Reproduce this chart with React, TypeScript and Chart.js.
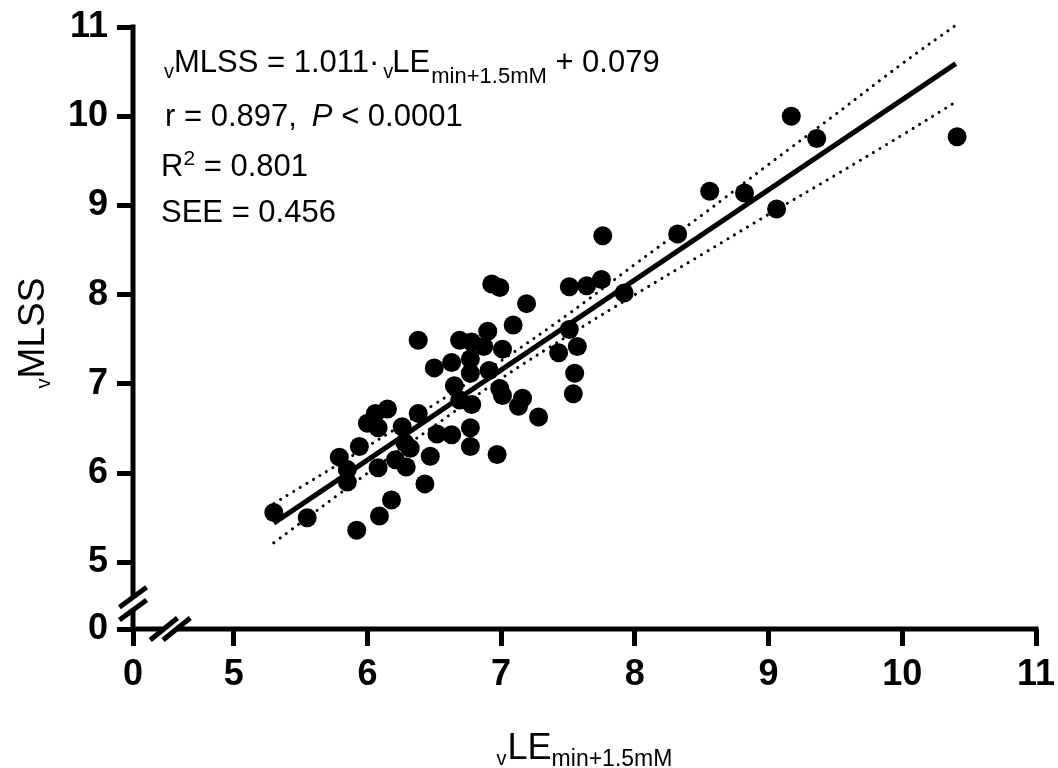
import React, { useEffect, useRef } from 'react';
import { Chart, registerables } from 'chart.js';

Chart.register(...registerables);

const FONT = "'Liberation Sans', Arial, Helvetica, sans-serif";

// Individual subjects: √LE(min+1.5mM) (x) vs √MLSS (y)
const xData = [
  5.30, 5.55, 5.92, 6.09, 6.18, 6.43, 5.79, 5.85, 5.85, 5.94,
  6.00, 6.06, 6.15, 6.08, 6.08, 6.26, 6.28, 6.21, 6.29, 6.38,
  6.47, 6.52, 6.32,
  6.38, 6.69, 6.78, 6.87, 7.01, 6.90, 7.09, 7.19, 6.93, 6.99,
  6.50, 6.63, 6.77, 6.77, 6.91, 6.65, 6.69, 6.78, 6.99, 7.01,
  7.16, 7.13, 7.28, 6.63, 6.77, 6.77, 6.97,
  7.43, 7.51, 7.57, 7.55, 7.54, 7.51, 7.64, 7.75, 7.92, 7.76,
  8.32, 8.56, 8.82, 9.06, 9.17, 9.36, 10.41,
];
const yData = [
  5.56, 5.50, 5.36, 5.52, 5.70, 5.88, 6.18, 6.04, 5.90, 6.30,
  6.56, 6.67, 6.72, 6.51, 6.06, 6.52, 6.34, 6.15, 6.07, 6.67,
  6.19, 6.44, 6.28,
  7.49, 7.49, 7.47, 7.42, 7.39, 7.59, 7.66, 7.90, 8.12, 8.08,
  7.18, 7.24, 7.28, 7.12, 7.15, 6.98, 6.82, 6.77, 6.95, 6.87,
  6.84, 6.75, 6.63, 6.43, 6.51, 6.30, 6.21,
  7.35, 7.61, 7.42, 7.12, 6.89, 8.09, 8.10, 8.17, 8.02, 8.66,
  8.68, 9.16, 9.14, 8.96, 10.00, 9.75, 9.77,
];

// Regression line end points and 95% confidence band
const fitX = [5.3, 10.4];
const fitY = [5.44, 10.59];
const bandX = [5.3, 6.0, 6.5, 7.0, 7.5, 8.0, 8.5, 9.0, 9.5, 10.0, 10.4];
const bandUpper = [5.66, 6.30, 6.77, 7.26, 7.78, 8.34, 8.89, 9.46, 10.02, 10.59, 11.02];
const bandLower = [5.22, 6.00, 6.53, 7.06, 7.54, 8.00, 8.45, 8.90, 9.34, 9.79, 10.16];

// Axis ticks (axes are broken between 0 and 5)
const xTickValues = [5, 6, 7, 8, 9, 10, 11];
const yTickValues = [5, 6, 7, 8, 9, 10, 11];
const zeroTickLabel = '0';
const X_ZERO_AT = 4.247; // position on the broken x axis where "0" is shown
const Y_ZERO_AT = 4.254; // position on the broken y axis where "0" is shown

type Part = { t: string; f: string; dx?: number; dy?: number };

const main = `31px ${FONT}`;
const mainItalic = `italic 31px ${FONT}`;
const tiny = `20px ${FONT}`;
const sub = `22px ${FONT}`;
const sup = `21px ${FONT}`;

const annotationLines: { x: number; y: number; parts: Part[] }[] = [
  {
    x: 164, y: 44.7,
    parts: [
      { t: 'v', f: tiny, dy: 6.3 },
      { t: 'MLSS = 1.011·', f: main },
      { t: 'v', f: tiny, dy: 6.3, dx: 4 },
      { t: 'LE', f: main, dx: -1 },
      { t: 'min+1.5mM', f: sub, dy: 11, dx: 1 },
      { t: ' + 0.079', f: main },
    ],
  },
  {
    x: 165, y: 98.7,
    parts: [
      { t: 'r = 0.897,', f: main },
      { t: 'P', f: mainItalic, dx: 15 },
      { t: ' < 0.0001', f: main },
    ],
  },
  {
    x: 161, y: 148.7,
    parts: [
      { t: 'R', f: main },
      { t: '2', f: sup, dy: -10.7 },
      { t: ' = 0.801', f: main },
    ],
  },
  {
    x: 161, y: 195.3,
    parts: [{ t: 'SEE = 0.456', f: main }],
  },
];

const xTitle: Part[] = [
  { t: 'v', f: `20px ${FONT}`, dy: 6 },
  { t: 'LE', f: `36px ${FONT}`, dx: 1 },
  { t: 'min+1.5mM', f: `23px ${FONT}`, dy: 7 },
];
const yTitle: Part[] = [
  { t: 'v', f: `20px ${FONT}`, dy: 6 },
  { t: 'MLSS', f: `37px ${FONT}` },
];

function runWidth(ctx: CanvasRenderingContext2D, parts: Part[]) {
  let w = 0;
  for (const p of parts) {
    ctx.font = p.f;
    w += (p.dx || 0) + ctx.measureText(p.t).width;
  }
  return w;
}

function drawRun(ctx: CanvasRenderingContext2D, parts: Part[], x: number, y: number) {
  let cx = x;
  for (const p of parts) {
    ctx.font = p.f;
    cx += p.dx || 0;
    ctx.fillText(p.t, cx, y + (p.dy || 0));
    cx += ctx.measureText(p.t).width;
  }
}

const decorPlugin = {
  id: 'decor',
  afterDraw(chart: any) {
    const ctx: CanvasRenderingContext2D = chart.ctx;
    const xs = chart.scales.x;
    const ys = chart.scales.y;
    const ca = chart.chartArea;
    const left = xs.getPixelForValue(X_ZERO_AT);
    const bottom = ys.getPixelForValue(Y_ZERO_AT);
    const x5 = xs.getPixelForValue(5);
    const x11 = xs.getPixelForValue(11);
    const y5 = ys.getPixelForValue(5);
    const y11 = ys.getPixelForValue(11);

    ctx.save();
    ctx.strokeStyle = '#000';
    ctx.fillStyle = '#000';
    ctx.lineWidth = 5;
    ctx.lineCap = 'butt';
    const seg = (a: number, b: number, c: number, d: number) => {
      ctx.beginPath();
      ctx.moveTo(a, b);
      ctx.lineTo(c, d);
      ctx.stroke();
    };
    const yb = bottom - 0.38 * (bottom - y5);
    const xb = left + 0.37 * (x5 - left);
    const g = 6.4;
    // axis lines with breaks
    seg(left, y11 - 2.5, left, yb - g);
    seg(left, yb + g, left, bottom + 2.5);
    seg(left - 2.5, bottom, xb - g, bottom);
    seg(xb + g, bottom, x11 + 2.5, bottom);
    // break marks
    for (const s of [-g, g]) {
      seg(left - 13.6, yb + s + 10, left + 13.6, yb + s - 10);
      seg(xb + s - 13.6, bottom + 11, xb + s + 13.6, bottom - 11);
    }

    // annotation
    ctx.textBaseline = 'alphabetic';
    ctx.textAlign = 'left';
    for (const line of annotationLines) {
      drawRun(ctx, line.parts, line.x, ca.top + line.y);
    }

    // x title
    const cxMid = (ca.left + ca.right) / 2;
    const wx = runWidth(ctx, xTitle);
    drawRun(ctx, xTitle, cxMid - wx / 2, 759);

    // y title (rotated)
    const cyMid = (ca.top + ca.bottom) / 2 + 5;
    const wy = runWidth(ctx, yTitle);
    ctx.translate(44, cyMid + wy / 2);
    ctx.rotate(-Math.PI / 2);
    drawRun(ctx, yTitle, 0, 0);
    ctx.restore();
  },
};

const tickFont = { family: FONT, size: 36, weight: 'bold' as const };

export default function App() {
  const ref = useRef<HTMLCanvasElement>(null);

  useEffect(() => {
    if (!ref.current) return;
    const points = xData.map((x, i) => ({ x, y: yData[i] }));
    const fit = fitX.map((x, i) => ({ x, y: fitY[i] }));
    const upper = bandX.map((x, i) => ({ x, y: bandUpper[i] }));
    const lower = bandX.map((x, i) => ({ x, y: bandLower[i] }));

    const chart = new Chart(ref.current, {
      type: 'scatter',
      data: {
        datasets: [
          {
            data: upper,
            showLine: true,
            borderColor: '#000',
            borderWidth: 3,
            borderDash: [0.1, 7.6],
            borderCapStyle: 'round',
            pointRadius: 0,
            tension: 0.4,
            clip: false as any,
          },
          {
            data: lower,
            showLine: true,
            borderColor: '#000',
            borderWidth: 3,
            borderDash: [0.1, 7.6],
            borderCapStyle: 'round',
            pointRadius: 0,
            tension: 0.4,
            clip: false as any,
          },
          {
            data: fit,
            showLine: true,
            borderColor: '#000',
            borderWidth: 5,
            pointRadius: 0,
          },
          {
            data: points,
            backgroundColor: '#000',
            borderColor: '#000',
            borderWidth: 0,
            pointRadius: 9.5,
            pointHoverRadius: 9.5,
          },
        ] as any,
      },
      options: {
        responsive: false,
        animation: false,
        devicePixelRatio: 1,
        layout: { padding: { top: 27, right: 22, bottom: 0, left: 0 } },
        plugins: {
          legend: { display: false },
          tooltip: { enabled: false },
          title: { display: false },
        },
        scales: {
          x: {
            type: 'linear',
            bounds: 'data',
            min: X_ZERO_AT,
            max: 11,
            afterBuildTicks: (s: any) => {
              s.ticks = [X_ZERO_AT, ...xTickValues].map((v) => ({ value: v }));
            },
            afterFit: (s: any) => {
              s.height = 139;
              s.paddingLeft = 0;
              s.paddingRight = 0;
            },
            grid: {
              display: true,
              drawOnChartArea: false,
              drawTicks: true,
              tickLength: 17,
              tickWidth: 5,
              tickColor: '#000',
            },
            border: { display: false },
            ticks: {
              font: tickFont,
              color: '#000',
              padding: 7,
              maxRotation: 0,
              autoSkip: false,
              callback: (v: any) => (v === X_ZERO_AT ? zeroTickLabel : String(v)),
            },
          },
          y: {
            type: 'linear',
            bounds: 'data',
            min: Y_ZERO_AT,
            max: 11,
            afterBuildTicks: (s: any) => {
              s.ticks = [Y_ZERO_AT, ...yTickValues].map((v) => ({ value: v }));
            },
            afterFit: (s: any) => {
              s.width = 133;
              s.paddingTop = 0;
              s.paddingBottom = 0;
            },
            grid: {
              display: true,
              drawOnChartArea: false,
              drawTicks: true,
              tickLength: 16,
              tickWidth: 5,
              tickColor: '#000',
            },
            border: { display: false },
            ticks: {
              font: tickFont,
              color: '#000',
              padding: 9,
              autoSkip: false,
              callback: (v: any) => (v === Y_ZERO_AT ? zeroTickLabel : String(v)),
            },
          },
        } as any,
      },
      plugins: [decorPlugin],
    });
    return () => chart.destroy();
  }, []);

  return (
    <div style={{ position: 'absolute', left: 0, top: 0, width: 1058, height: 768, background: '#fff' }}>
      <canvas ref={ref} width={1058} height={768} style={{ display: 'block' }} />
    </div>
  );
}
